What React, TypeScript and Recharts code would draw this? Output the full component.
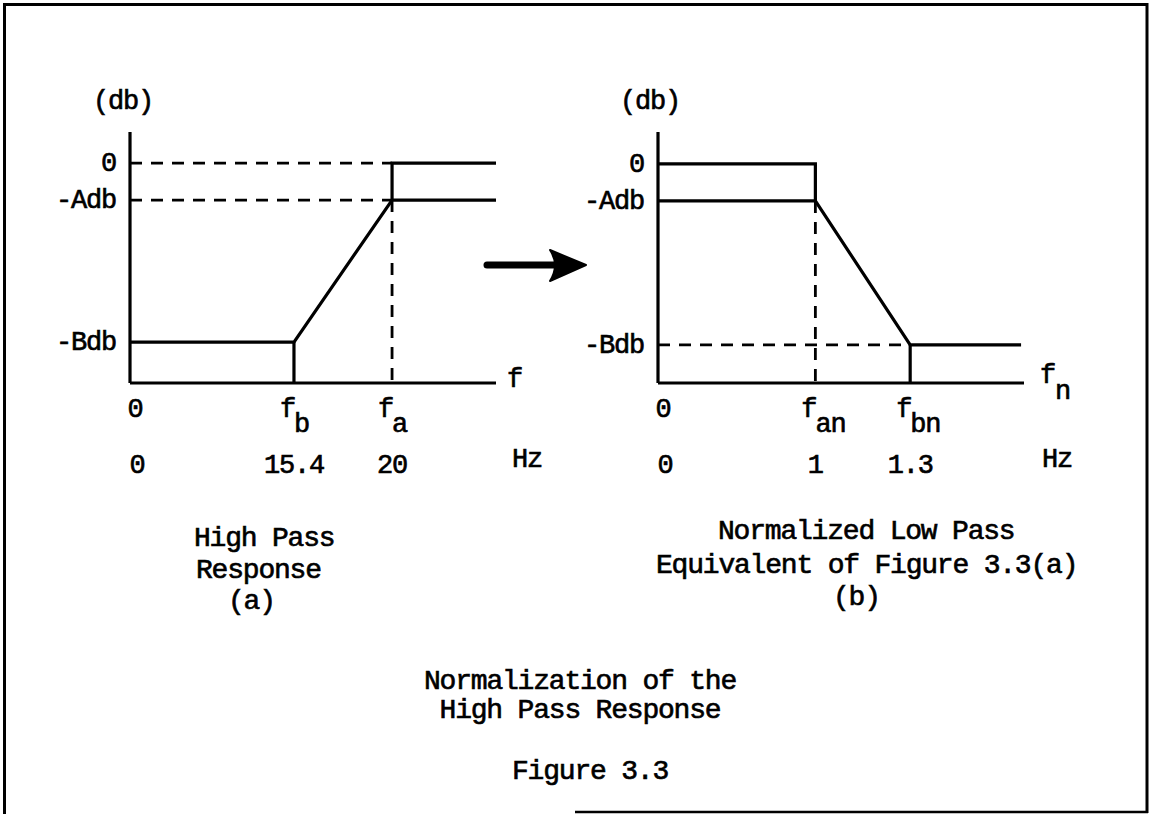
import React from 'react';
import { LineChart, Line, XAxis, YAxis } from 'recharts';

// ---------- (a) High Pass Response ----------
// schematic frequency axis runs 0..100; level axis runs 0..114
const hpTickPositions = [0, 44.8, 71.6];
const hpTickSymbols = ['0', 'f', 'f'];
const hpTickSubscripts = ['', 'b', 'a'];
const hpTickHz = ['0', '15.4', '20'];
const hpLevelValues = [99.9, 83.1, 18.6];
const hpLevelLabels = ['0', '-Adb', '-Bdb'];

const hpResponse = [
  { x: 0, y: 18.6 },
  { x: 44.8, y: 18.6 },
  { x: 71.6, y: 83.1 },
  { x: 100, y: 83.1 },
];
const hpUpper = [
  { x: 71.6, y: 83.1 },
  { x: 71.6, y: 99.9 },
  { x: 100, y: 99.9 },
];
const hpStepB = [
  { x: 44.8, y: 18.6 },
  { x: 44.8, y: 0 },
];
const hpGuideZero = [
  { x: 0, y: 99.9 },
  { x: 71.6, y: 99.9 },
];
const hpGuideA = [
  { x: 0, y: 83.1 },
  { x: 71.6, y: 83.1 },
];
const hpGuideFa = [
  { x: 71.6, y: 83.1 },
  { x: 71.6, y: 0 },
];

// ---------- (b) Normalized Low Pass Equivalent ----------
const lpTickPositions = [0, 43, 68.9];
const lpTickSymbols = ['0', 'f', 'f'];
const lpTickSubscripts = ['', 'an', 'bn'];
const lpTickHz = ['0', '1', '1.3'];
const lpLevelValues = [99.5, 82.7, 17.3];
const lpLevelLabels = ['0', '-Adb', '-Bdb'];

const lpUpper = [
  { x: 0, y: 99.5 },
  { x: 43, y: 99.5 },
  { x: 43, y: 82.7 },
];
const lpResponse = [
  { x: 0, y: 82.7 },
  { x: 43, y: 82.7 },
  { x: 68.9, y: 17.3 },
  { x: 99.2, y: 17.3 },
];
const lpStepB = [
  { x: 68.9, y: 17.3 },
  { x: 68.9, y: 0 },
];
const lpGuideB = [
  { x: 0, y: 17.3 },
  { x: 68.9, y: 17.3 },
];
const lpGuideFan = [
  { x: 43, y: 82.7 },
  { x: 43, y: 0 },
];

const FONT = '"Liberation Mono", "Courier New", monospace';
const TXT = { fontFamily: FONT, fill: '#000', stroke: '#000', strokeWidth: 0.65 } as const;
const LBL = { ...TXT, fontSize: 27, letterSpacing: -1.2 } as const;
const CAP = { ...TXT, fontSize: 28, letterSpacing: -1.2 } as const;

const makeYTick = (values: number[], labels: string[]) => (props: any) => {
  const { x, y, payload } = props;
  const i = values.indexOf(payload.value);
  if (i < 0) return <g />;
  return (
    <text x={x + 1} y={y + 8} textAnchor="end" {...LBL}>
      {labels[i]}
    </text>
  );
};

const makeXTick = (
  positions: number[],
  symbols: string[],
  subs: string[],
  hz: string[]
) => (props: any) => {
  const { x, y, payload } = props;
  const i = positions.indexOf(payload.value);
  if (i < 0) return <g />;
  const hasSub = subs[i] !== '';
  return (
    <g>
      {hasSub ? (
        <>
          <text x={x + 1} y={y + 34} textAnchor="end" {...LBL}>
            {symbols[i]}
          </text>
          <text x={x} y={y + 49} textAnchor="start" {...LBL}>
            {subs[i]}
          </text>
        </>
      ) : (
        <text x={x + 5} y={y + 34} textAnchor="middle" {...LBL}>
          {symbols[i]}
        </text>
      )}
      <text x={hasSub ? x : x + 7} y={y + 90} textAnchor="middle" {...LBL}>
        {hz[i]}
      </text>
    </g>
  );
};

const solid = { stroke: '#000', strokeWidth: 3.2, dot: false, isAnimationActive: false, type: 'linear' as const };
const dashed = { ...solid, strokeWidth: 2.8, strokeDasharray: '12 9' };

function Panel(props: {
  left: number;
  tickPositions: number[];
  tickSymbols: string[];
  tickSubs: string[];
  tickHz: string[];
  levelValues: number[];
  levelLabels: string[];
  solids: { x: number; y: number }[][];
  dashes: { x: number; y: number }[][];
}) {
  const { left } = props;
  return (
    <div style={{ position: 'absolute', left, top: 0 }}>
      <LineChart
        width={560}
        height={500}
        margin={{ top: 132, right: 64, left: 0, bottom: 0 }}
      >
        <XAxis
          type="number"
          dataKey="x"
          domain={[0, 100]}
          ticks={props.tickPositions}
          interval={0}
          height={117}
          tickSize={0}
          tickMargin={0}
          tickLine={false}
          axisLine={{ stroke: '#000', strokeWidth: 3.2 }}
          tick={makeXTick(props.tickPositions, props.tickSymbols, props.tickSubs, props.tickHz)}
        />
        <YAxis
          type="number"
          dataKey="y"
          domain={[0, 114]}
          ticks={props.levelValues}
          interval={0}
          width={130}
          tickSize={0}
          tickMargin={15}
          tickLine={false}
          axisLine={{ stroke: '#000', strokeWidth: 3.2 }}
          tick={makeYTick(props.levelValues, props.levelLabels)}
        />
        {props.dashes.map((d, k) => (
          <Line key={'d' + k} data={d} dataKey="y" {...dashed} />
        ))}
        {props.solids.map((d, k) => (
          <Line key={'s' + k} data={d} dataKey="y" {...solid} />
        ))}
      </LineChart>
    </div>
  );
}

export default function App() {
  return (
    <div
      style={{
        position: 'absolute',
        left: 0,
        top: 0,
        width: 1152,
        height: 814,
        background: '#fff',
        overflow: 'hidden',
      }}
    >
      <Panel
        left={0}
        tickPositions={hpTickPositions}
        tickSymbols={hpTickSymbols}
        tickSubs={hpTickSubscripts}
        tickHz={hpTickHz}
        levelValues={hpLevelValues}
        levelLabels={hpLevelLabels}
        solids={[hpResponse, hpUpper, hpStepB]}
        dashes={[hpGuideZero, hpGuideA, hpGuideFa]}
      />
      <Panel
        left={528}
        tickPositions={lpTickPositions}
        tickSymbols={lpTickSymbols}
        tickSubs={lpTickSubscripts}
        tickHz={lpTickHz}
        levelValues={lpLevelValues}
        levelLabels={lpLevelLabels}
        solids={[lpUpper, lpResponse, lpStepB]}
        dashes={[lpGuideB, lpGuideFan]}
      />
      <svg
        width={1152}
        height={814}
        style={{ position: 'absolute', left: 0, top: 0, pointerEvents: 'none' }}
      >
        {/* frame */}
        <line x1={4.5} y1={3} x2={4.5} y2={814} stroke="#000" strokeWidth={3} />
        <line x1={3} y1={4.5} x2={1148} y2={4.5} stroke="#000" strokeWidth={3} />
        <line x1={1147} y1={3} x2={1147} y2={813} stroke="#000" strokeWidth={3} />
        <line x1={575} y1={812} x2={1148} y2={812} stroke="#000" strokeWidth={2.5} />
        {/* arrow */}
        <line x1={487} y1={265} x2={560} y2={265} stroke="#000" strokeWidth={7} strokeLinecap="round" />
        <path d="M 586 265 L 550 250 Q 560 265 550 281 Z" fill="#000" stroke="#000" strokeWidth={2} strokeLinejoin="round" />
        {/* axis titles */}
        <text x={123} y={109} textAnchor="middle" {...LBL}>(db)</text>
        <text x={650} y={109} textAnchor="middle" {...LBL}>(db)</text>
        <text x={507} y={387} {...LBL}>f</text>
        <text x={1040} y={383} {...LBL}>f</text>
        <text x={1055} y={399} {...LBL}>n</text>
        <text x={527} y={467} textAnchor="middle" {...LBL}>Hz</text>
        <text x={1057} y={467} textAnchor="middle" {...LBL}>Hz</text>
        {/* captions */}
        <text x={194} y={546} {...CAP}>High Pass</text>
        <text x={196} y={578} {...CAP}>Response</text>
        <text x={228} y={609} {...CAP}>(a)</text>
        <text x={718} y={539} {...CAP}>Normalized Low Pass</text>
        <text x={656} y={573} {...CAP}>Equivalent of Figure 3.3(a)</text>
        <text x={833} y={605} {...CAP}>(b)</text>
        <text x={580} y={689} textAnchor="middle" {...CAP}>Normalization of the</text>
        <text x={580} y={718} textAnchor="middle" {...CAP}>High Pass Response</text>
        <text x={590} y={779} textAnchor="middle" {...CAP}>Figure 3.3</text>
      </svg>
    </div>
  );
}
